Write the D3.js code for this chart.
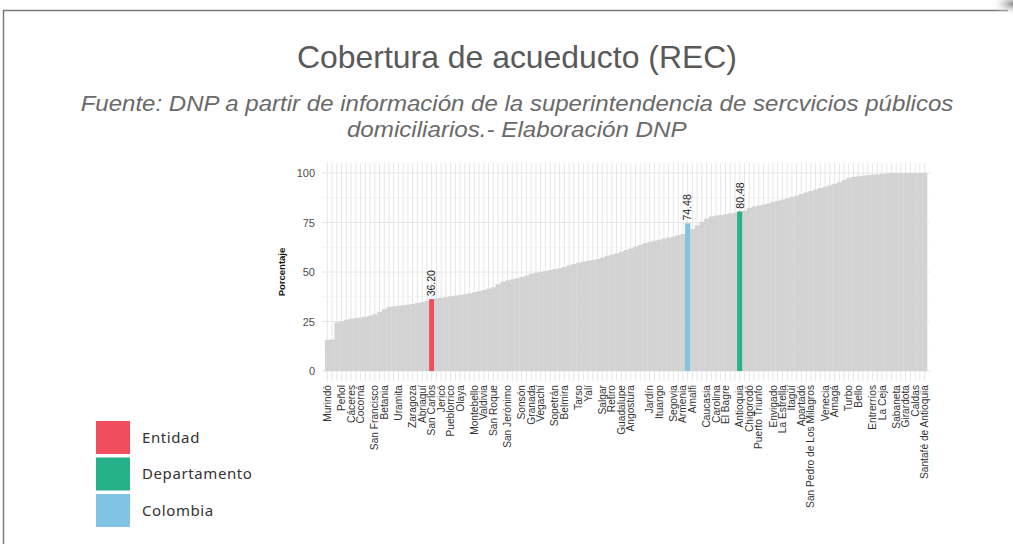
<!DOCTYPE html>
<html>
<head>
<meta charset="utf-8">
<script src="https://cdn.jsdelivr.net/npm/d3@7"></script>
<style>
  body { margin: 0; background: #fff; }
  svg { display: block; }
</style>
</head>
<body>
<svg id="chart" width="1013" height="544"></svg>
<script>
// ---------------- DATA ----------------
const titulo = "Cobertura de acueducto (REC)";
const subtitulo = [
  "Fuente: DNP a partir de información de la superintendencia de sercvicios públicos",
  "domiciliarios.- Elaboración DNP"
];

const municipios = [
  "Murindó","Vigía del Fuerte","Mutatá","Peñol","Peque","Cáceres","San Juan de Urabá","Cocorná","Arboletes","Necoclí",
  "San Francisco","Briceño","Betania","Anorí","Nechí","Uramita","Tarazá","Dabeiba","Zaragoza","Argelia",
  "Abriaquí","Nariño","San Carlos","Alejandría","Jericó","Caicedo","Pueblorrico","Buriticá","Olaya","San Luis",
  "San Rafael","Montebello","Remedios","Valdivia","Yondó","San Roque","Toledo","Sabanalarga","San Jerónimo","Frontino",
  "Cañasgordas","Sonsón","Abejorral","Granada","Heliconia","Vegachí","Liborina","Ebéjico","Sopetrán","Giraldo",
  "Belmira","Concepción","Anzá","Tarso","Betulia","Yalí","Caracolí","San Andrés de Cuerquia","Salgar","Santo Domingo",
  "Retiro","Yolombó","Guadalupe","Urrao","Angostura","Puerto Nare","Maceo","Titiribí","Jardín","Angelópolis",
  "Ituango","Concordia","Campamento","Segovia","San Pedro de Urabá","Armenia","Colombia","Amalfi","Valparaíso","Caramanta",
  "Caucasia","Fredonia","Carolina","Gómez Plata","El Bagre","San Vicente","Cisneros","Antioquia","Hispania","Chigorodó",
  "Ciudad Bolívar","Puerto Triunfo","Támesis","Santa Bárbara","Envigado","Yarumal","La Estrella","Carepa","Itagüí","Puerto Berrío",
  "Apartadó","La Pintada","San Pedro de Los Milagros","Andes","Guatapé","Venecia","San José de la Montaña","Amagá","Santa Rosa de Osos","Donmatías",
  "Turbo","El Santuario","Bello","La Unión","Guarne","Entrerríos","Barbosa","La Ceja","El Carmen de Viboral","Marinilla",
  "Sabaneta","Copacabana","Girardota","Rionegro","Caldas","Medellín","Santafé de Antioquia"
];

const cobertura = [
  15.7,15.9,24.5,25.1,25.9,26.4,26.8,27.0,27.5,28.0,
  28.6,29.9,31.2,32.3,32.6,32.9,33.2,33.5,33.9,34.4,
  34.8,35.3,36.20,36.7,37.0,37.4,37.7,38.1,38.4,38.8,
  39.2,39.8,40.3,40.9,41.6,42.3,43.8,45.1,45.8,46.3,
  46.8,47.5,48.2,49.1,49.6,50.0,50.5,51.0,51.5,52.0,
  52.6,53.4,54.1,54.7,55.2,55.6,56.0,56.6,57.3,58.2,
  58.8,59.4,60.2,61.1,61.9,62.8,63.7,64.6,65.3,65.8,
  66.3,66.9,67.4,67.9,68.6,69.2,74.48,71.8,73.6,75.4,
  77.0,78.1,78.5,78.8,79.2,79.6,80.0,80.48,81.0,82.4,
  83.1,83.6,84.1,84.6,85.3,86.0,86.6,87.2,87.9,88.6,
  89.4,90.2,90.9,91.7,92.4,93.1,93.8,94.5,95.3,96.4,
  97.6,98.1,98.3,98.6,98.8,99.1,99.3,99.6,99.8,100,
  100,100,100,100,100,100,100
];

// labels that remain visible on the x axis
const etiquetasVisibles = [
  "Murindó","Peñol","Cáceres","Cocorná","San Francisco","Betania","Uramita","Zaragoza","Abriaquí","San Carlos",
  "Jericó","Pueblorrico","Olaya","Montebello","Valdivia","San Roque","San Jerónimo","Sonsón","Granada","Vegachí",
  "Sopetrán","Belmira","Tarso","Yalí","Salgar","Retiro","Guadalupe","Angostura","Jardín","Ituango",
  "Segovia","Armenia","Amalfi","Caucasia","Carolina","El Bagre","Antioquia","Chigorodó","Puerto Triunfo","Envigado",
  "La Estrella","Itagüí","Apartadó","San Pedro de Los Milagros","Venecia","Amagá","Turbo","Bello","Entrerríos","La Ceja",
  "Sabaneta","Girardota","Caldas","Santafé de Antioquia"
];

const destacados = { "San Carlos": "Entidad", "Antioquia": "Departamento", "Colombia": "Colombia" };
const leyenda = ["Entidad", "Departamento", "Colombia"];
const coloresLeyenda = ["#F04E5E", "#27B18A", "#80C3E3"];
const yTicks = [0, 25, 50, 75, 100];

// ---------------- CHART ----------------
const svg = d3.select("#chart");
const colorOf = d3.scaleOrdinal().domain(leyenda).range(coloresLeyenda);

// frame
svg.append("line").attr("x1", 3).attr("x2", 1008).attr("y1", 10.5).attr("y2", 10.5)
  .attr("stroke", "#7a7a7a").attr("stroke-width", 1.5);
svg.append("line").attr("x1", 3.5).attr("x2", 3.5).attr("y1", 10).attr("y2", 544)
  .attr("stroke", "#7a7a7a").attr("stroke-width", 1.5);
const defs = svg.append("defs");
const rg = defs.append("radialGradient").attr("id", "shade");
rg.append("stop").attr("offset", "0%").attr("stop-color", "#8a8a8a");
rg.append("stop").attr("offset", "100%").attr("stop-color", "#ffffff").attr("stop-opacity", 0);
svg.append("ellipse").attr("cx", 1013).attr("cy", 4).attr("rx", 22).attr("ry", 12).attr("fill", "url(#shade)");

// helper: stretch a text horizontally to a target width around its centre
function fitWidth(sel, cx, target) {
  sel.each(function () {
    const w = this.getComputedTextLength();
    const s = target / w;
    d3.select(this).attr("transform", `translate(${cx},0) scale(${s},1) translate(${-cx},0)`);
  });
}

// titles
const tt = svg.append("text").attr("x", 517).attr("y", 68).attr("text-anchor", "middle")
  .attr("font-family", "Liberation Sans, Arial, sans-serif").attr("font-size", 31)
  .attr("fill", "#595959").text(titulo);
fitWidth(tt, 517, 440);
const subs = svg.selectAll("text.sub").data(subtitulo).join("text").attr("class", "sub")
  .attr("x", 517).attr("y", (d, i) => 111 + i * 26).attr("text-anchor", "middle")
  .attr("font-family", "Liberation Sans, Arial, sans-serif").attr("font-size", 21.5)
  .attr("font-style", "italic").attr("fill", "#6a6a6a").text(d => d);
fitWidth(subs.filter((d, i) => i === 0), 517, 873);
fitWidth(subs.filter((d, i) => i === 1), 519, 340);

// scales
const x = d3.scaleBand().domain(municipios).range([325, 927]).padding(0);
const y = d3.scaleLinear().domain([0, 100]).range([371, 173]);
const xL = 325 - 0.6 * x.step(), xR = 927 + 0.6 * x.step();
const yTop = y(105), yBot = y(-5);

const g = svg.append("g");
// minor horizontal grid
g.selectAll("line.hmin").data([12.5, 37.5, 62.5, 87.5]).join("line")
  .attr("x1", xL).attr("x2", xR).attr("y1", d => y(d)).attr("y2", d => y(d))
  .attr("stroke", "#f3f3f3").attr("stroke-width", 0.8);
// major horizontal grid
g.selectAll("line.hmaj").data(yTicks).join("line")
  .attr("x1", xL).attr("x2", xR).attr("y1", d => y(d)).attr("y2", d => y(d))
  .attr("stroke", "#e6e6e6").attr("stroke-width", 1);
// vertical grid
g.selectAll("line.v").data(municipios).join("line")
  .attr("x1", d => x(d) + x.bandwidth() / 2).attr("x2", d => x(d) + x.bandwidth() / 2)
  .attr("y1", yTop).attr("y2", yBot)
  .attr("stroke", "#e6e6e6").attr("stroke-width", 1);

const datos = municipios.map((m, i) => ({ m, v: cobertura[i] }));

// bars
g.selectAll("rect.bar").data(datos).join("rect")
  .attr("x", d => x(d.m)).attr("width", x.bandwidth() + 0.3)
  .attr("y", d => y(d.v)).attr("height", d => y(0) - y(d.v))
  .attr("fill", d => destacados[d.m] ? colorOf(destacados[d.m]) : "#d3d3d3");
// highlighted on top
g.selectAll("rect.hl").data(datos.filter(d => destacados[d.m])).join("rect")
  .attr("x", d => x(d.m)).attr("width", x.bandwidth())
  .attr("y", d => y(d.v)).attr("height", d => y(0) - y(d.v))
  .attr("fill", d => colorOf(destacados[d.m]));

// value labels
g.selectAll("text.val").data(datos.filter(d => destacados[d.m])).join("text")
  .attr("transform", d => `translate(${x(d.m) + x.bandwidth() / 2 + 3.8},${y(d.v) - 3}) rotate(-90)`)
  .attr("font-family", "Liberation Sans, Arial, sans-serif").attr("font-size", 10.5)
  .attr("fill", "#222").text(d => d.v.toFixed(2));

// y axis
const yAxis = d3.axisLeft(y).tickValues(yTicks).tickSize(0).tickPadding(0);
const ya = svg.append("g").attr("transform", `translate(315,0)`).call(yAxis);
ya.select(".domain").remove();
ya.selectAll("text").attr("font-family", "Liberation Sans, Arial, sans-serif")
  .attr("font-size", 11).attr("fill", "#4d4d4d").attr("dy", "0.36em");

svg.append("text").attr("transform", `translate(285,272) rotate(-90)`).attr("text-anchor", "middle")
  .attr("font-family", "Liberation Sans, Arial, sans-serif").attr("font-size", 9.5)
  .attr("font-weight", "bold").attr("fill", "#111").text("Porcentaje");

// x axis
const xAxis = d3.axisBottom(x).tickSize(0).tickPadding(0)
  .tickFormat(d => etiquetasVisibles.includes(d) ? d : "");
const xa = svg.append("g").attr("transform", `translate(0,385)`).call(xAxis);
xa.select(".domain").remove();
xa.selectAll("text").attr("font-family", "Liberation Sans, Arial, sans-serif")
  .attr("font-size", 10.2).attr("fill", "#333")
  .attr("text-anchor", "end").attr("transform", "rotate(-90)")
  .attr("x", 0).attr("y", 0).attr("dx", 0).attr("dy", "0.35em");

// legend
const lg = svg.append("g");
lg.selectAll("rect").data(leyenda).join("rect")
  .attr("x", 96).attr("y", (d, i) => 421 + i * 36.5).attr("width", 34).attr("height", 33)
  .attr("fill", d => colorOf(d));
lg.selectAll("text").data(leyenda).join("text")
  .attr("x", 142).attr("y", (d, i) => 437.5 + i * 36.5).attr("dy", "0.35em")
  .attr("font-family", "Noto Sans, Open Sans, sans-serif").attr("font-size", 15)
  .attr("letter-spacing", 0.6)
  .attr("fill", "#333").text(d => d);
</script>
</body>
</html>
